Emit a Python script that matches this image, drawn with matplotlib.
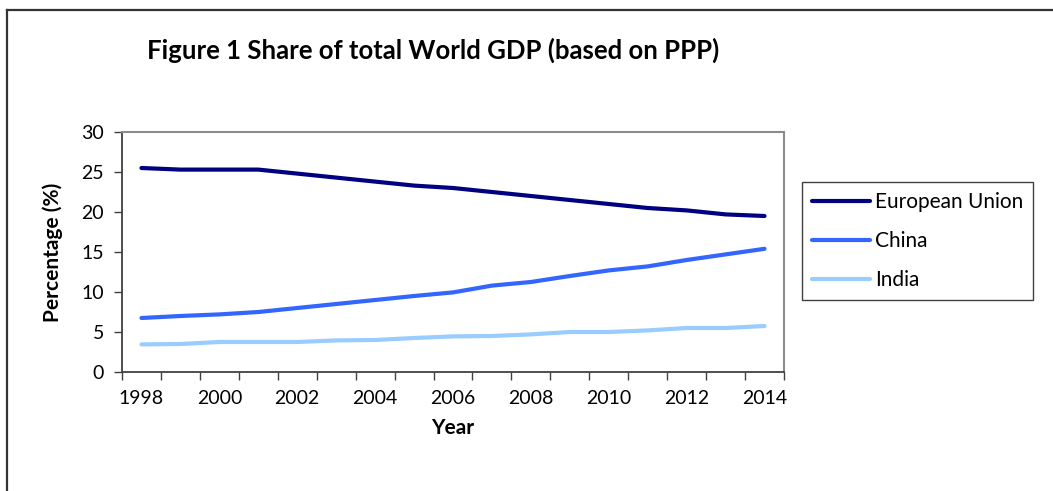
import numpy as np
import matplotlib
matplotlib.use("Agg")
import matplotlib.pyplot as plt
from matplotlib.lines import Line2D

# Data
years = list(range(1998, 2015))
eu = [25.5, 25.3, 25.3, 25.3, 24.8, 24.3, 23.8, 23.3, 23.0, 22.5, 22.0, 21.5, 21.0, 20.5, 20.2, 19.7, 19.5]
china = [6.75, 7.0, 7.2, 7.5, 8.0, 8.5, 9.0, 9.5, 9.95, 10.8, 11.25, 12.0, 12.7, 13.2, 14.0, 14.7, 15.4]
india = [3.45, 3.5, 3.75, 3.75, 3.75, 3.95, 4.0, 4.25, 4.45, 4.5, 4.7, 5.0, 5.0, 5.2, 5.5, 5.5, 5.75]
series_names = ["European Union", "China", "India"]
colors = ["#000080", "#3366FF", "#99CCFF"]

plt.rcParams["font.family"] = ["Lato", "DejaVu Sans"]

W, H = 1053, 491
fig = plt.figure(figsize=(W / 100, H / 100), dpi=100)
ax = fig.add_axes([122 / W, 1 - 372 / H, (784 - 122) / W, (372 - 132) / H])

x = np.arange(len(years))
for vals, name, c in zip([eu, china, india], series_names, colors):
    ax.plot(x, vals, color=c, lw=3, label=name, solid_capstyle="round", solid_joinstyle="round")

ax.set_xlim(-0.5, len(years) - 0.5)
ax.set_ylim(0, 30)
ax.set_yticks(range(0, 31, 5))
ax.tick_params(axis="y", direction="out", length=6, width=1, color="#404040", labelsize=14, pad=7)

# category ticks between years, labels on every other year
ax.set_xticks(np.arange(-0.5, len(years), 1.0))
ax.set_xticklabels([])
ax.tick_params(axis="x", which="major", direction="out", length=6, width=1, color="#404040")
ax.set_xticks(x[::2], minor=True)
ax.set_xticklabels([str(y) for y in years[::2]], minor=True)
ax.tick_params(axis="x", which="minor", length=0, labelsize=14, pad=13)

for s in ["left", "bottom"]:
    ax.spines[s].set_color("#404040")
    ax.spines[s].set_linewidth(1.3)
for s in ["top", "right"]:
    ax.spines[s].set_color("#8c8c8c")
    ax.spines[s].set_linewidth(1.5)

fig.text(147 / W, 1 - 50 / H, "Figure 1 Share of total World GDP (based on PPP)",
         fontsize=18.5, fontweight="bold", ha="left", va="center")
fig.text(453 / W, 1 - 428 / H, "Year", fontsize=15, fontweight="bold", ha="center", va="center")
fig.text(53 / W, 1 - 252 / H, "Percentage (%)", fontsize=15, fontweight="bold",
         ha="center", va="center", rotation=90)

leg = fig.legend(loc="upper left", bbox_to_anchor=(802 / W, 1 - 182 / H), borderaxespad=0,
                 fontsize=15, handlelength=2.74, handletextpad=0.25, labelspacing=0.9,
                 fancybox=False, framealpha=1, edgecolor="#404040", borderpad=0.5)
leg.get_frame().set_linewidth(1.0)

# outer chart border (top and left visible)
fig.add_artist(Line2D([7 / W, 1], [1 - 10 / H, 1 - 10 / H], transform=fig.transFigure, color="#333333", lw=1.6))
fig.add_artist(Line2D([7 / W, 7 / W], [0, 1 - 10 / H], transform=fig.transFigure, color="#333333", lw=1.6))

fig.savefig("out.png", dpi=100)
